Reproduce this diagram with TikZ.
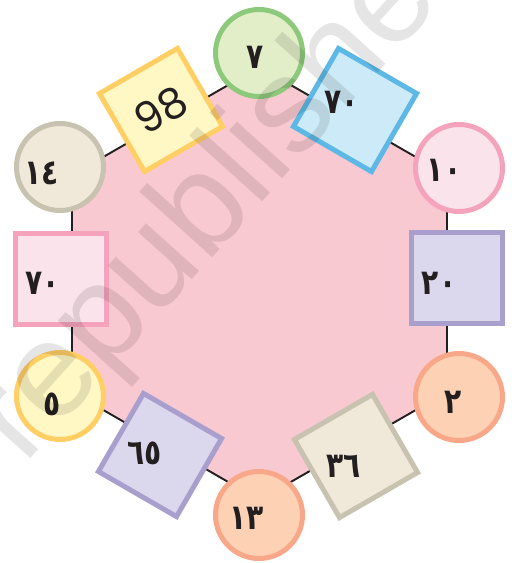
\documentclass[tikz,border=0pt]{standalone}
\usepackage{fontspec}
\newfontfamily\arabicfont[Script=Arabic, FakeStretch=0.8]{DejaVu Sans}
\newfontfamily\latinfont{Poppins}
\newfontfamily\wmfont{Liberation Sans}
\usetikzlibrary{positioning,backgrounds,shapes.geometric}
\definecolor{ink}{HTML}{231F20}
\definecolor{hexpink}{HTML}{F9C9D1}
\definecolor{grn}{HTML}{8DC97B}
\definecolor{grn2}{HTML}{E1EEC8}
\definecolor{yel}{HTML}{FFCF66}
\definecolor{yel2}{HTML}{FFF8C4}
\definecolor{bge}{HTML}{C8C2B0}
\definecolor{bge2}{HTML}{F0E8D8}
\definecolor{pnk}{HTML}{F5A3BC}
\definecolor{pnk2}{HTML}{FBE3EC}
\definecolor{lav}{HTML}{A99FCD}
\definecolor{lav2}{HTML}{DBD8EE}
\definecolor{pch}{HTML}{F8A788}
\definecolor{pch2}{HTML}{FCD1B4}
\definecolor{blu}{HTML}{5DB8E6}
\definecolor{blu2}{HTML}{CDEAF8}
\tikzset{
  circ/.style={circle, line width=0.1cm, minimum size=1.74cm, inner sep=0pt},
  sqr/.style={regular polygon, regular polygon sides=4, line width=0.1cm,
              minimum size=2.55cm, inner sep=0pt},
  num/.style={font=\arabicfont\bfseries\fontsize{20}{22}\selectfont, text=ink, inner sep=0pt},
  latnum/.style={font=\latinfont\fontsize{24}{28}\selectfont, text=ink, inner sep=0pt},
  edge/.style={line width=1.1pt, draw=ink},
  hexbg/.style={fill=hexpink},
  wmark/.style={font=\wmfont\fontsize{77}{80}\selectfont, text=black, text opacity=0.1, inner sep=0pt},
}

\begin{document}
\begin{tikzpicture}[x=0.02cm, y=-0.02cm]
\useasboundingbox (0,0) rectangle (511,563);
  % hexagon corners
  \coordinate (hT) at (259.5,67);
  \coordinate (hUR) at (447,175);
  \coordinate (hLR) at (447,392);
  \coordinate (hB) at (259.5,500);
  \coordinate (hLL) at (72,392);
  \coordinate (hUL) at (72,175);
  % circles at the corners
  \node[circ, draw=grn, fill=grn2] (c7) at (259,53) {};
  \node[circ, draw=pnk, fill=pnk2] (c10) at (459,168) {};
  \node[circ, draw=pch, fill=pch2] (c2) at (459,397) {};
  \node[circ, draw=pch, fill=pch2] (c13) at (259,515) {};
  \node[circ, draw=yel, fill=yel2] (c5) at (60,396) {};
  \node[circ, draw=bge, fill=bge2] (c14) at (60,167) {};
  % squares on the sides
  \node[sqr, draw=yel, fill=yel2, rotate=30] (s98) at (161,110) {};
  \node[sqr, draw=blu, fill=blu2, shape border rotate=-30] (s70b) at (355,110) {};
  \node[sqr, draw=lav, fill=lav2] (s20) at (457,278) {};
  \node[sqr, draw=bge, fill=bge2, shape border rotate=30] (s36) at (356,456) {};
  \node[sqr, draw=lav, fill=lav2, shape border rotate=-30] (s65) at (160,455) {};
  \node[sqr, draw=pnk, fill=pnk2] (s70) at (61,279) {};
  % numbers
  \node[num] (t7) at ([shift={(-4,4)}]c7) {٧};
  \node[num] (t10) at ([shift={(-15,2)}]c10) {١٠};
  \node[num] (t2) at ([shift={(-6,5)}]c2) {٢};
  \node[num] (t13) at ([shift={(-12,3)}]c13) {١٣};
  \node[num] (t5) at ([shift={(-8,8)}]c5) {٥};
  \node[num] (t14) at ([shift={(-18,6)}]c14) {١٤};
  \node[latnum, rotate=30] (t98) at (s98) {98};
  \node[num] (t70b) at ([shift={(-13,-8)}]s70b) {٧٠};
  \node[num] (t20) at ([shift={(-18,5)}]s20) {٢٠};
  \node[num] (t36) at ([shift={(-12,10)}]s36) {٣٦};
  \node[num] (t65) at ([shift={(-15,-2)}]s65) {٦٥};
  \node[num] (t70) at ([shift={(-18,4)}]s70) {٧٠};
  \begin{scope}[on background layer]
    \fill[hexbg] (hT) -- (hUR) -- (hLR) -- (hB) -- (hLL) -- (hUL) -- cycle;
    \foreach \a/\b in {hT/hUR,hUR/hLR,hLR/hB,hB/hLL,hLL/hUL,hUL/hT}{ \draw[edge] (\a) -- (\b); }
  \end{scope}
  % watermark
  \begin{scope}
    \clip (0,0) rectangle (511,563);
    \node[wmark, rotate=48] (wm) at (233,182) {republished};
  \end{scope}
\end{tikzpicture}
\end{document}
